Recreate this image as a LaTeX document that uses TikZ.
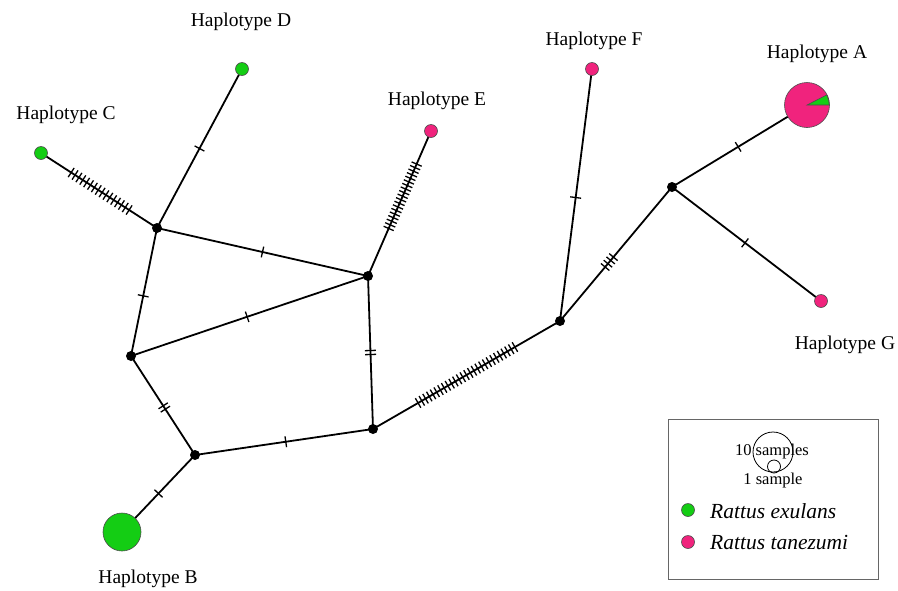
\documentclass[tikz,border=0pt]{standalone}
\usepackage{fontspec}
\setmainfont{Liberation Serif}
\usetikzlibrary{calc}
\definecolor{rexg}{RGB}{20,205,20}
\definecolor{rtan}{RGB}{240,35,125}
\tikzset{
  edge/.style={line width=1.8pt, black},
  tick/.style={line width=1.3pt, black},
  junc/.style={circle, fill=black, inner sep=0pt, minimum size=10pt},
  hapg/.style={circle, fill=rexg, draw=black!70, line width=0.6pt, inner sep=0pt, minimum size=13pt},
  hapt/.style={circle, fill=rtan, draw=black!70, line width=0.6pt, inner sep=0pt, minimum size=13pt},
  lab/.style={font=\fontsize{19.5}{22}\selectfont, inner sep=0pt},
  leg/.style={font=\fontsize{16.5}{19}\selectfont, inner sep=0pt},
  legi/.style={font=\fontsize{21.5}{24}\selectfont\itshape, inner sep=0pt, anchor=west},
}
% \mticks{a}{b}{n}{fraction}{spacing}
\newcommand{\mticks}[5]{%
  \foreach \i in {1,...,#3}{%
    \pgfmathsetmacro{\off}{(\i-(#3+1)/2)*#5}%
    \coordinate (tq) at ($(#1)!#4!(#2)$);
    \coordinate (tp) at ($(tq)!\off pt!(#2)$);
    \draw[tick] ($(tp)!5.5pt!90:(#2)$) -- ($(tp)!5.5pt!-90:(#2)$);
  }%
}
\begin{document}
\begin{tikzpicture}[x=1pt,y=-1pt]
\useasboundingbox (0,0) rectangle (898,590);
% coordinates
\coordinate (C) at (41,153);
\coordinate (D) at (242,69);
\coordinate (E) at (431,131);
\coordinate (F) at (592,69);
\coordinate (A) at (807,105);
\coordinate (G) at (821,301);
\coordinate (B) at (122,532);
\coordinate (n1) at (157,228);
\coordinate (n2) at (368,276);
\coordinate (n3) at (131,356);
\coordinate (n4) at (195,455);
\coordinate (n5) at (373,429);
\coordinate (n6) at (560,321);
\coordinate (n7) at (672,187);
% edges
\draw[edge] (C) -- (n1);
\draw[edge] (D) -- (n1);
\draw[edge] (n1) -- (n2);
\draw[edge] (n1) -- (n3);
\draw[edge] (n3) -- (n2);
\draw[edge] (E) -- (n2);
\draw[edge] (n2) -- (n5);
\draw[edge] (n3) -- (n4);
\draw[edge] (n4) -- (B);
\draw[edge] (n4) -- (n5);
\draw[edge] (n5) -- (n6);
\draw[edge] (n6) -- (F);
\draw[edge] (n6) -- (n7);
\draw[edge] (n7) -- (A);
\draw[edge] (n7) -- (G);
% ticks
\mticks{C}{n1}{16}{0.51}{4.6}
\mticks{D}{n1}{1}{0.50}{4}
\mticks{n1}{n2}{1}{0.50}{4}
\mticks{n1}{n3}{1}{0.53}{4}
\mticks{n3}{n2}{1}{0.49}{4}
\mticks{E}{n2}{19}{0.45}{3.9}
\mticks{n2}{n5}{2}{0.50}{4}
\mticks{n3}{n4}{2}{0.52}{4}
\mticks{n4}{B}{1}{0.50}{4}
\mticks{n4}{n5}{1}{0.51}{4}
\mticks{n5}{n6}{27}{0.50}{4.3}
\mticks{n6}{F}{1}{0.49}{4}
\mticks{n6}{n7}{4}{0.44}{4.3}
\mticks{n7}{A}{1}{0.49}{4}
\mticks{n7}{G}{1}{0.49}{4}
% junction nodes
\foreach \n in {n1,n2,n3,n4,n5,n6,n7}{\node[junc] (j\n) at (\n) {};}
% haplotypes
\node[hapg] (hC) at (C) {};
\node[hapg] (hD) at (D) {};
\node[hapt] (hE) at (E) {};
\node[hapt] (hF) at (F) {};
\node[hapt] (hG) at (G) {};
\node[hapg, minimum size=38pt] (hB) at (B) {};
\node[hapt, minimum size=45pt] (hA) at (A) {};
\fill[rexg, draw=black!70, line width=0.6pt] (hA.center) -- ++(0:22.2pt) arc[start angle=0, end angle=27, radius=22.2pt] -- cycle;
% labels
\node[lab] (lD) at (241,22) {Haplotype D};
\node[lab] (lC) at (66,115) {Haplotype C};
\node[lab] (lE) at (437,101) {Haplotype E};
\node[lab] (lF) at (594,41) {Haplotype F};
\node[lab] (lA) at (817,54) {Haplotype A};
\node[lab] (lG) at (845,345) {Haplotype G};
\node[lab] (lB) at (148,579) {Haplotype B};
% legend
\draw[black!60, line width=0.8pt] (668,419) rectangle (878,579);
\node[circle, draw=black, line width=0.8pt, inner sep=0pt, minimum size=40pt] (c10) at (773,452) {};
\node[circle, draw=black, line width=0.8pt, inner sep=0pt, minimum size=13pt] (c1) at (774,466.5) {};
\node[leg] (t10) at (772,452) {10 samples};
\node[leg] (t1) at (773,481) {1 sample};
\node[hapg] (lgG) at (688,510) {};
\node[hapt] (lgT) at (688,542) {};
\node[legi] (tG) at (710,511) {Rattus exulans};
\node[legi] (tT) at (710,543) {Rattus tanezumi};
\end{tikzpicture}
\end{document}
